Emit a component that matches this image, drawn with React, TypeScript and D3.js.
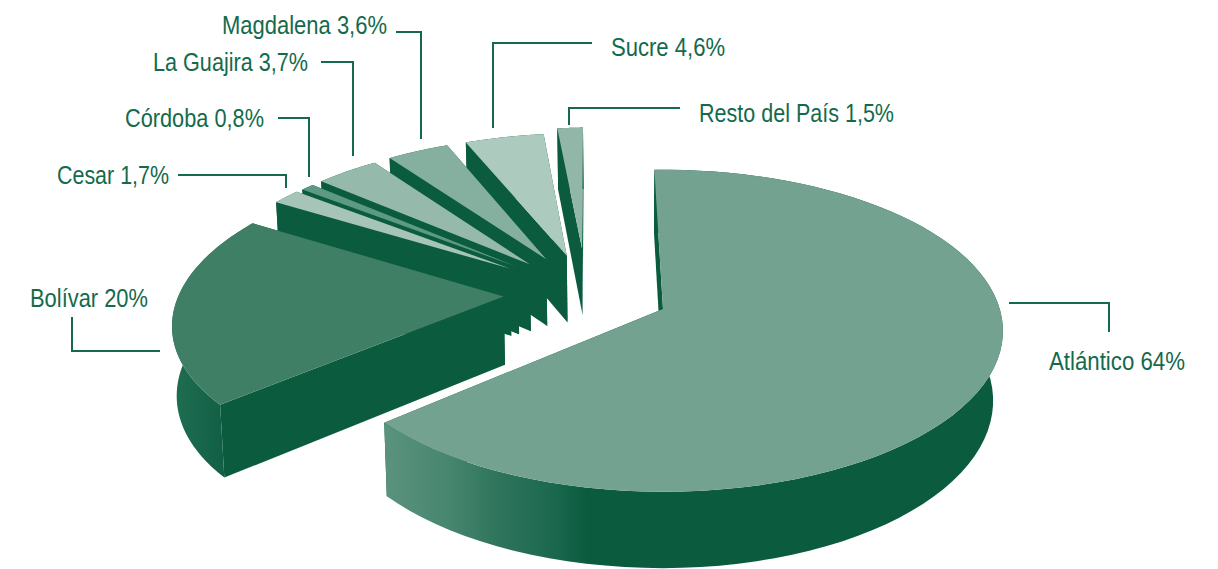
import React from "react";
import * as d3 from "d3";

const departments = ["Atlántico", "Bolívar", "Cesar", "Córdoba", "La Guajira", "Magdalena", "Sucre", "Resto del País"];
const shares = [64, 20, 1.7, 0.8, 3.7, 3.6, 4.6, 1.5];
const shareLabels = ["64%", "20%", "1,7%", "0,8%", "3,7%", "3,6%", "4,6%", "1,5%"];
const explodeAmounts = [0.25, 0.247, 0.288, 0.275, 0.262, 0.26, 0.258, 0.3];
const sliceRadii = [0.993, 0.97, 0.92, 0.93, 0.945, 0.95, 0.95, 0.95];
const topColors = ["#74a290", "#3f7f66", "#a6c4b8", "#5c9a83", "#95baab", "#85af9e", "#adcabe", "#92b7a8"];

const DARK = "#0b5c3e";
const TEXT = "#146a4c";

// perspective model of the pie plane
const APEX_X = 660, APEX_Y = 312, SCALE_X = 340, SCALE_Y = 160, PERSP = 0.137;
const CENTER = [-0.22, -0.12];
const DEPTH = 69, SHRINK_Y = 0.018, SHRINK_R = 0.027, SHRINK_L = 0.01, SHRINK_X = 640;
const START = (-1.6 * Math.PI) / 180;

function project(X: number, Y: number, z: number): [number, number] {
  const w = 1 - PERSP * Y;
  const x = APEX_X + (SCALE_X * X) / w;
  const sx = 1 - (x > SHRINK_X ? SHRINK_R : SHRINK_L) * z;
  return [SHRINK_X + (x - SHRINK_X) * sx, APEX_Y + ((SCALE_Y * Y) / w) * (1 - SHRINK_Y * z) + (DEPTH * z) / w];
}

const pieGen = d3.pie<number>().sort(null).startAngle(START).endAngle(START + 2 * Math.PI);
const arcs = pieGen(shares);
const line = d3.line();

function slicePaths(i: number) {
  const a = arcs[i];
  const mid = (a.startAngle + a.endAngle) / 2;
  const e = explodeAmounts[i];
  const r = sliceRadii[i];
  const ox = CENTER[0] + e * Math.sin(mid);
  const oy = CENTER[1] - e * Math.cos(mid);
  const angles = d3.range(0, 81).map((k) => a.startAngle + ((a.endAngle - a.startAngle) * k) / 80);
  const rim = (z: number) => angles.map((t) => project(ox + r * Math.sin(t), oy - r * Math.cos(t), z));
  const rimTop = rim(0);
  const rimBottom = rim(1);
  const apexTop = project(ox, oy, 0);
  const apexBottom = project(ox, oy, 1);
  return {
    top: line([apexTop, ...rimTop])! + "Z",
    side: line([...rimTop, ...[...rimBottom].reverse()])! + "Z",
    startFace: line([apexTop, rimTop[0], rimBottom[0], apexBottom])! + "Z",
    endFace: line([apexTop, rimTop[80], rimBottom[80], apexBottom])! + "Z",
  };
}

const drawOrder = [7, 6, 5, 4, 3, 2, 1, 0];

const labelItems = [
  { i: 0, x: 1049, y: 370, w: 136, anchor: "start", d: "M1009,303H1109V332" },
  { i: 1, x: 30, y: 307, w: 118, anchor: "start", d: "M72,317V351H160" },
  { i: 2, x: 169, y: 184, w: 112, anchor: "end", d: "M178,175H286V188" },
  { i: 3, x: 264, y: 127, w: 139, anchor: "end", d: "M278,118H309V177" },
  { i: 4, x: 308, y: 71, w: 155, anchor: "end", d: "M321,62H353V156" },
  { i: 5, x: 387, y: 34, w: 165, anchor: "end", d: "M396,32H421V139" },
  { i: 6, x: 611, y: 56, w: 114, anchor: "start", d: "M592,43H493V128" },
  { i: 7, x: 699, y: 122, w: 195, anchor: "start", d: "M680,108H569V125" },
];

export default function App() {
  return (
    <svg width={1218} height={569} style={{ position: "absolute", left: 0, top: 0, background: "#fff" }}>
      <defs>
        <linearGradient id="rim0" gradientUnits="userSpaceOnUse" x1={387} x2={1003} y1={0} y2={0}>
          <stop offset="0" stopColor="#5a927d" />
          <stop offset="0.1" stopColor="#47866f" />
          <stop offset="0.18" stopColor="#2f745c" />
          <stop offset="0.265" stopColor="#1c6950" />
          <stop offset="0.325" stopColor={DARK} />
          <stop offset="1" stopColor={DARK} />
        </linearGradient>
        <linearGradient id="rim1" gradientUnits="userSpaceOnUse" x1={172} x2={225} y1={0} y2={0}>
          <stop offset="0" stopColor="#1f6e52" />
          <stop offset="1" stopColor="#115f44" />
        </linearGradient>
      </defs>
      {drawOrder.map((i) => {
        const p = slicePaths(i);
        const rimFill = i === 0 ? "url(#rim0)" : i === 1 ? "url(#rim1)" : DARK;
        return (
          <g key={departments[i]}>
            <path d={p.startFace} fill={DARK} />
            <path d={p.endFace} fill={DARK} />
            <path d={p.side} fill={rimFill} />
            <path d={p.top} fill={topColors[i]} />
          </g>
        );
      })}
      {labelItems.map((l) => (
        <g key={l.i}>
          <path d={l.d} fill="none" stroke={TEXT} strokeWidth={2} />
          <text
            x={l.x}
            y={l.y}
            textAnchor={l.anchor as "start" | "end"}
            textLength={l.w}
            lengthAdjust="spacingAndGlyphs"
            fontFamily="'Liberation Sans', sans-serif"
            fontSize={26}
            fill={TEXT}
          >
            {`${departments[l.i]} ${shareLabels[l.i]}`}
          </text>
        </g>
      ))}
    </svg>
  );
}
